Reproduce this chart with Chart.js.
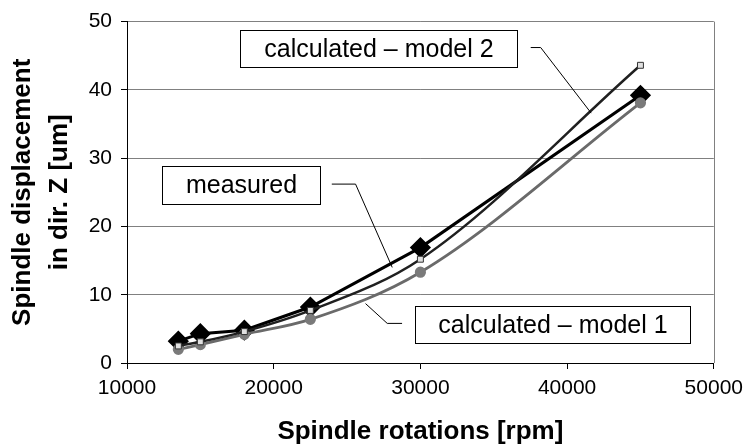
<!DOCTYPE html>
<html lang="en">
<head>
    <meta charset="UTF-8">
    <title>Spindle displacement</title>
    <style>
        body {
            margin: 0;
            padding: 0;
            background: #ffffff;
        }
        #wrap {
            width: 750px;
            height: 448px;
        }
    </style>
    <script src="https://cdn.jsdelivr.net/npm/chart.js"></script>
</head>
<body>
    <div id="wrap">
        <canvas id="chart" width="750" height="448"></canvas>
    </div>

    <script>
        // values
        const rpm = [13500, 15000, 18000, 22500, 30000, 45000];
        const measured = [3.2, 4.3, 4.8, 8.2, 16.9, 39.2];
        const model1 = [2.0, 2.7, 4.2, 6.4, 13.3, 38.1];
        const model2 = [2.5, 3.1, 4.6, 7.7, 15.2, 43.6];

        const xTicks = [10000, 20000, 30000, 40000, 50000];
        const yTicks = [0, 10, 20, 30, 40, 50];

        // callout boxes, placed in data units: [left, right, top, bottom]
        const notes = [
            { text: 'calculated – model 2', box: [17670, 36580, 48.8, 43.3],
              leader: [[37520, 46.2], [38200, 46.2], [41640, 36.6]] },
            { text: 'measured', box: [12410, 23130, 28.9, 23.3],
              leader: [[23960, 26.2], [25580, 26.2], [28080, 14.0]] },
            { text: 'calculated – model 1', box: [29610, 48360, 8.4, 2.95],
              leader: [[26260, 8.7], [27740, 5.8], [28750, 5.8]] }
        ];

        const FONT = "'Liberation Sans', Arial, sans-serif";

        function pts(values) {
            return rpm.map((r, i) => ({ x: r, y: values[i] }));
        }

        const calloutPlugin = {
            id: 'callouts',
            afterDraw(chart) {
                const ctx = chart.ctx;
                const xs = chart.scales.x;
                const ys = chart.scales.y;
                const area = chart.chartArea;

                // plot area right border
                ctx.save();
                ctx.strokeStyle = '#808080';
                ctx.lineWidth = 1;
                ctx.beginPath();
                ctx.moveTo(Math.round(area.right) + 0.5, area.top);
                ctx.lineTo(Math.round(area.right) + 0.5, area.bottom);
                ctx.stroke();

                notes.forEach(n => {
                    ctx.strokeStyle = '#000';
                    ctx.lineWidth = 1;
                    ctx.beginPath();
                    n.leader.forEach((p, i) => {
                        const px = xs.getPixelForValue(p[0]);
                        const py = ys.getPixelForValue(p[1]);
                        if (i === 0) ctx.moveTo(px, py); else ctx.lineTo(px, py);
                    });
                    ctx.stroke();

                    const l = Math.round(xs.getPixelForValue(n.box[0])) + 0.5;
                    const r = Math.round(xs.getPixelForValue(n.box[1])) + 0.5;
                    const t = Math.round(ys.getPixelForValue(n.box[2])) + 0.5;
                    const b = Math.round(ys.getPixelForValue(n.box[3])) + 0.5;
                    ctx.fillStyle = '#fff';
                    ctx.fillRect(l, t, r - l, b - t);
                    ctx.strokeRect(l, t, r - l, b - t);

                    ctx.fillStyle = '#000';
                    ctx.font = '25px ' + FONT;
                    ctx.textAlign = 'center';
                    ctx.textBaseline = 'middle';
                    ctx.fillText(n.text, (l + r) / 2, (t + b) / 2 + 1);
                });
                ctx.restore();
            }
        };

        new Chart(document.getElementById('chart').getContext('2d'), {
            type: 'line',
            data: {
                datasets: [
                    {
                        label: 'calculated – model 2',
                        data: pts(model2),
                        borderColor: '#202020',
                        borderWidth: 2.5,
                        cubicInterpolationMode: 'monotone',
                        pointStyle: 'rect',
                        pointRadius: 4.2,
                        pointBackgroundColor: '#e0e0e0',
                        pointBorderColor: '#333',
                        pointBorderWidth: 1,
                        order: 1
                    },
                    {
                        label: 'calculated – model 1',
                        data: pts(model1),
                        borderColor: '#6a6a6a',
                        borderWidth: 2.8,
                        cubicInterpolationMode: 'monotone',
                        pointStyle: 'circle',
                        pointRadius: 4.2,
                        pointBackgroundColor: '#7a7a7a',
                        pointBorderColor: '#7a7a7a',
                        order: 2
                    },
                    {
                        label: 'measured',
                        data: pts(measured),
                        borderColor: '#000',
                        borderWidth: 3,
                        pointStyle: 'rectRot',
                        pointRadius: 8.5,
                        pointBackgroundColor: '#000',
                        pointBorderColor: '#000',
                        order: 3
                    }
                ]
            },
            options: {
                responsive: false,
                animation: false,
                layout: {
                    padding: { left: 0, top: 19, right: 30, bottom: 0 }
                },
                plugins: {
                    legend: { display: false },
                    tooltip: { enabled: false }
                },
                scales: {
                    x: {
                        type: 'linear',
                        min: xTicks[0],
                        max: xTicks[xTicks.length - 1],
                        afterBuildTicks: s => { s.ticks = xTicks.map(v => ({ value: v })); },
                        afterFit: s => { s.height = 85; },
                        border: { color: '#000', width: 1 },
                        grid: {
                            drawOnChartArea: false,
                            drawTicks: true,
                            tickLength: 6,
                            tickColor: '#000'
                        },
                        ticks: {
                            color: '#000',
                            padding: 7,
                            maxRotation: 0,
                            font: { family: FONT, size: 21 },
                            callback: v => String(v)
                        },
                        title: {
                            display: true,
                            text: 'Spindle rotations [rpm]',
                            color: '#000',
                            padding: { top: 0, bottom: 1 },
                            font: { family: FONT, size: 26, weight: 'bold' }
                        }
                    },
                    y: {
                        min: yTicks[0],
                        max: yTicks[yTicks.length - 1],
                        afterBuildTicks: s => { s.ticks = yTicks.map(v => ({ value: v })); },
                        afterFit: s => { s.width = 127; },
                        border: { color: '#000', width: 1 },
                        grid: {
                            color: '#808080',
                            tickLength: 6,
                            tickColor: '#000'
                        },
                        ticks: {
                            color: '#000',
                            padding: 9,
                            font: { family: FONT, size: 21 }
                        },
                        title: {
                            display: true,
                            text: ['Spindle displacement', 'in dir. Z [um]'],
                            color: '#000',
                            padding: { top: 4, bottom: 0 },
                            font: { family: FONT, size: 26, weight: 'bold', lineHeight: 1.42 }
                        }
                    }
                }
            },
            plugins: [calloutPlugin]
        });
    </script>
</body>
</html>
